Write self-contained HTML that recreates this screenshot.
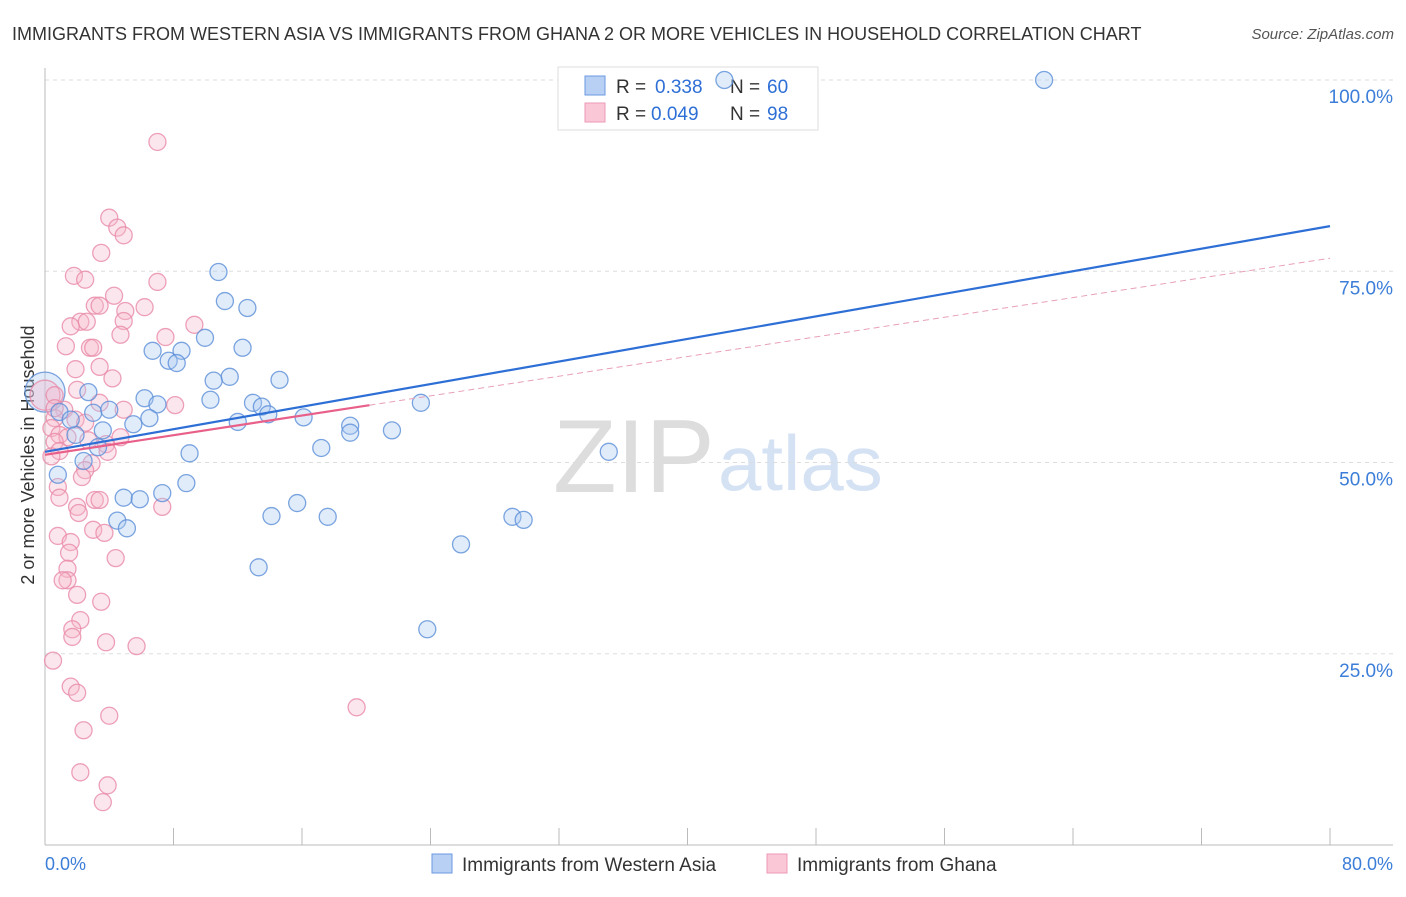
<!DOCTYPE html>
<html><head><meta charset="utf-8"><style>
body{margin:0;background:#fff;font-family:"Liberation Sans",sans-serif;}
svg text{font-family:"Liberation Sans",sans-serif;}
</style></head><body>
<svg id="chart" width="1406" height="892">
<text x="12" y="40" font-size="18" fill="#333">IMMIGRANTS FROM WESTERN ASIA VS IMMIGRANTS FROM GHANA 2 OR MORE VEHICLES IN HOUSEHOLD CORRELATION CHART</text>
<text x="1394" y="39" font-size="15" fill="#555" font-style="italic" text-anchor="end">Source: ZipAtlas.com</text>
<text x="34" y="455" font-size="18" fill="#333" text-anchor="middle" transform="rotate(-90 34 455)">2 or more Vehicles in Household</text>
<text x="553" y="492" font-size="104" fill="#ddd" font-family="Liberation Serif">ZIP</text>
<text x="718" y="490" font-size="78" fill="#d4e2f4">atlas</text>
<g id="grid"></g>
<g>
<rect x="558" y="67" width="260" height="63" fill="#fff" stroke="#ddd"/>
<rect x="585" y="76" width="20" height="19" fill="#b8d0f4" stroke="#6a9ae0"/>
<rect x="585" y="103" width="20" height="19" fill="#f9c7d6" stroke="#ee9ab5"/>
<text x="616" y="93" font-size="19" fill="#333">R =</text>
<text x="655" y="93" font-size="19" fill="#2e6fd6">0.338</text>
<text x="730" y="93" font-size="19" fill="#333">N =</text>
<text x="767" y="93" font-size="19" fill="#2e6fd6">60</text>
<text x="616" y="120" font-size="19" fill="#333">R =</text>
<text x="651" y="120" font-size="19" fill="#2e6fd6">0.049</text>
<text x="730" y="120" font-size="19" fill="#333">N =</text>
<text x="767" y="120" font-size="19" fill="#2e6fd6">98</text>
</g>
<g id="pts"></g><g id="lines"></g>
<g>
<rect x="432" y="854" width="20" height="19" fill="#b8d0f4" stroke="#6a9ae0"/>
<text x="462" y="871" font-size="19" fill="#333">Immigrants from Western Asia</text>
<rect x="767" y="854" width="20" height="19" fill="#f9c7d6" stroke="#ee9ab5"/>
<text x="797" y="871" font-size="19" fill="#333">Immigrants from Ghana</text>
</g>
<text x="45" y="870" font-size="18" fill="#3b7dd8">0.0%</text>
<text x="1393" y="870" font-size="18" fill="#3b7dd8" text-anchor="end">80.0%</text>
</svg>
<script>
const yTicks=[25,50,75,100];
const yTickLabels=["25.0%","50.0%","75.0%","100.0%"];
const blueX=[62.2,42.3,10.8,11.2,12.6,9.96,6.7,8.5,12.3,7.7,8.2,11.5,10.5,14.6,2.7,6.2,10.3,23.4,7.0,12.95,13.5,13.9,16.1,3.0,6.5,12.0,4.0,5.5,19.0,19.0,21.6,3.6,1.9,3.3,17.2,35.1,9.0,2.4,0.8,8.8,7.3,4.9,5.9,15.7,14.1,17.6,29.1,29.8,4.5,5.1,25.9,13.3,23.8,0.9,1.6];
const blueY=[100,100,74.9,71.1,70.2,66.3,64.6,64.6,65.0,63.3,63.0,61.2,60.7,60.8,59.2,58.4,58.2,57.8,57.6,57.8,57.3,56.3,55.9,56.5,55.8,55.3,56.9,55.0,54.8,53.9,54.2,54.2,53.6,52.0,51.9,51.4,51.2,50.2,48.4,47.3,46.0,45.4,45.2,44.7,43.0,42.9,42.9,42.5,42.4,41.4,39.3,36.3,28.2,56.6,55.6];
const pinkX=[7.0,4.0,4.5,4.9,3.5,1.8,2.5,7.0,4.3,3.1,3.4,6.2,5.0,2.2,2.6,4.9,1.6,9.3,4.7,7.5,1.3,2.8,3.0,1.9,3.4,4.2,2.0,0.6,8.1,4.9,3.4,1.2,0.6,1.9,2.5,0.4,0.9,4.7,1.4,2.7,0.6,3.8,0.9,0.4,3.9,2.9,2.5,2.3,0.8,0.9,3.1,3.4,2.0,7.3,2.1,3.0,3.7,0.8,1.6,1.5,4.4,1.4,1.4,1.1,2.0,3.5,2.2,1.7,1.7,3.8,5.7,0.5,1.6,2.0,19.4,4.0,2.4,2.2,3.9,3.6,0.6];
const pinkY=[91.9,82.0,80.7,79.7,77.4,74.4,73.9,73.6,71.8,70.5,70.5,70.3,69.8,68.4,68.4,68.5,67.8,68.0,66.7,66.4,65.2,65.0,65.0,62.2,62.5,61.0,59.5,58.8,57.5,56.9,57.8,56.9,55.8,55.6,55.2,54.5,53.6,53.3,53.3,52.9,52.7,52.4,51.5,50.8,51.4,49.9,49.0,48.1,46.8,45.4,45.1,45.1,44.2,44.2,43.4,41.2,40.8,40.4,39.6,38.2,37.5,36.1,34.6,34.6,32.7,31.8,29.4,28.2,27.2,26.5,26.0,24.1,20.7,19.9,18.0,16.9,15.0,9.5,7.8,5.6,57.1];
const blueTrend=[51.4,80.9];
const pinkTrend=[51.0,76.7];
const pinkSolidEnd=20.2;
const NS='http://www.w3.org/2000/svg';
const X0=45,X1=1330,Y0=845,YS=7.65;
function sx(v){return X0+v/80*(X1-X0);}
function sy(v){return Y0-v*YS;}
function mk(t,a,p){const e=document.createElementNS(NS,t);for(const k in a)e.setAttribute(k,a[k]);p.appendChild(e);return e;}
const grid=document.getElementById('grid');
yTicks.forEach((t,i)=>{
 const l=mk('line',{x1:X0,x2:1393,y1:sy(t),y2:sy(t),stroke:'#ddd','stroke-dasharray':'4,4'},grid);
 
 
 const tx=mk('text',{x:1393,y:sy(t)+23,'font-size':19,fill:'#3b7dd8','text-anchor':'end'},grid);
 tx.textContent=yTickLabels[i];
 
 
});
mk('line',{x1:X0,x2:X0,y1:68,y2:Y0,stroke:'#bbb'},grid);
mk('line',{x1:X0,x2:1393,y1:Y0,y2:Y0,stroke:'#bbb'},grid);
for(let i=0;i<=10;i++){mk('line',{x1:sx(i*8),x2:sx(i*8),y1:828,y2:Y0,stroke:'#bbb'},grid);}
const pts=document.getElementById('pts');
function dot(x,y,r,fill,stroke,name){const c=mk('circle',{cx:sx(x),cy:sy(y),r:r,fill:fill,'fill-opacity':0.35,stroke:stroke,'stroke-width':1.3,'stroke-opacity':0.8},pts);
 
 }
dot(0,59.2,20,'#a8c8f0','#5b8ed8','blue-point');
dot(0,58.8,15,'#f5b8cb','#e88aa8','pink-point');
pinkX.forEach((x,i)=>dot(x,pinkY[i],8.5,'#f5b8cb','#e88aa8','pink-point'));
blueX.forEach((x,i)=>dot(x,blueY[i],8.5,'#a8c8f0','#5b8ed8','blue-point'));
const lines=document.getElementById('lines');
const bl=mk('line',{x1:sx(0),y1:sy(blueTrend[0]),x2:sx(80),y2:sy(blueTrend[1]),stroke:'#2e6fd6','stroke-width':2.2},lines);


const pe=pinkTrend[0]+(pinkTrend[1]-pinkTrend[0])*pinkSolidEnd/80;
const ps=mk('line',{x1:sx(0),y1:sy(pinkTrend[0]),x2:sx(pinkSolidEnd),y2:sy(pe),stroke:'#e8608a','stroke-width':2.2},lines);


const pd=mk('line',{x1:sx(pinkSolidEnd),y1:sy(pe),x2:sx(80),y2:sy(pinkTrend[1]),stroke:'#e8a0b8','stroke-width':1,'stroke-dasharray':'6,4'},lines);


</script>
</body></html>
